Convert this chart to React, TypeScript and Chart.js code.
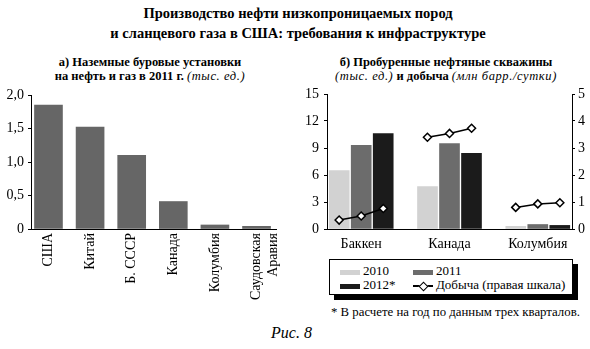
import React, { useEffect, useRef } from 'react';
import { Chart, registerables } from 'chart.js';

Chart.register(...registerables);

const FONT = '"Liberation Serif", "DejaVu Serif", serif';

// Left panel: land rigs 2011 (thousand units)
const rigCountries = ['США', 'Китай', 'Б. СССР', 'Канада', 'Колумбия', ['Саудовская', 'Аравия']];
const rigValues = [1.85, 1.52, 1.1, 0.41, 0.06, 0.04];
const rigTickLabels = ['0', '0,5', '1,0', '1,5', '2,0'];

// Right panel: wells drilled (thousand) and production (mb/d)
const fields = ['Баккен', 'Канада', 'Колумбия'];
const wells2010 = [6.5, 4.7, 0.3];
const wells2011 = [9.3, 9.5, 0.5];
const wells2012 = [10.6, 8.4, 0.4];
const prodBakken = [0.33, 0.48, 0.76];
const prodCanada = [3.4, 3.54, 3.73];
const prodColombia = [0.8, 0.93, 0.97];
const wellsTickStep = 3;
const prodTickStep = 1;

const C2010 = '#d2d2d2';
const C2011 = '#6c6c6c';
const C2012 = '#1b1b1b';
const CRIG = '#666666';

const tickFont = { family: FONT, size: 14 };

function LeftChart() {
  const ref = useRef<HTMLCanvasElement>(null);
  useEffect(() => {
    const chart = new Chart(ref.current!, {
      type: 'bar',
      data: {
        datasets: [
          {
            data: rigValues.map((v, i) => ({ x: i, y: v })),
            backgroundColor: CRIG,
            barThickness: 28,
          },
        ],
      },
      options: {
        animation: false,
        responsive: false,
        layout: { padding: { top: 15, right: 11, left: 0, bottom: 0 } },
        plugins: { legend: { display: false }, tooltip: { enabled: false }, title: { display: false } },
        scales: {
          x: {
            type: 'linear',
            offset: false,
            min: -0.42,
            max: 5.47,
            afterBuildTicks: (axis: any) => {
              axis.ticks = rigCountries.map((_, i) => ({ value: i }));
            },
            afterFit: (axis: any) => {
              axis.height = 81;
            },
            ticks: {
              autoSkip: false,
              minRotation: 90,
              maxRotation: 90,
              padding: 4,
              color: '#000',
              font: tickFont,
              callback: (_v: any, i: number) => rigCountries[i] as any,
            },
            grid: { drawOnChartArea: false, drawTicks: false },
            border: { display: true, color: '#000', width: 1 },
          },
          y: {
            min: 0,
            max: 2,
            ticks: {
              stepSize: 0.5,
              color: '#000',
              font: tickFont,
              padding: 4,
              callback: (_v: any, i: number) => rigTickLabels[i],
            },
            afterFit: (axis: any) => {
              axis.width = 31;
            },
            grid: { drawOnChartArea: false, drawTicks: true, tickLength: 3, color: '#000' },
            border: { display: true, color: '#000', width: 1 },
          },
        },
      } as any,
    });
    return () => chart.destroy();
  }, []);
  return <canvas ref={ref} width={295} height={230} style={{ display: 'block' }} />;
}

function RightChart() {
  const ref = useRef<HTMLCanvasElement>(null);
  useEffect(() => {
    const groupX = (i: number) => 2 + 4 * i;
    const barDs = (label: string, vals: number[], color: string) => ({
      type: 'bar',
      label,
      data: vals.map((v, i) => ({ x: groupX(i), y: v })),
      backgroundColor: color,
      barThickness: 22,
      maxBarThickness: 20,
      yAxisID: 'y',
      order: 2,
    });
    const lineDs = (vals: number[], gi: number) => ({
      type: 'line',
      label: 'Добыча (правая шкала)',
      data: vals.map((v, j) => ({ x: groupX(gi) - 1 + j, y: v })),
      borderColor: '#000',
      borderWidth: 1.5,
      pointStyle: 'rectRot',
      pointRadius: 4,
      pointBackgroundColor: '#fff',
      pointBorderColor: '#000',
      pointBorderWidth: 1.5,
      yAxisID: 'y1',
      order: 0,
    });
    const chart = new Chart(ref.current!, {
      type: 'bar',
      data: {
        datasets: [
          barDs('2010', wells2010, C2010),
          barDs('2011', wells2011, C2011),
          barDs('2012*', wells2012, C2012),
          lineDs(prodBakken, 0),
          lineDs(prodCanada, 1),
          lineDs(prodColombia, 2),
        ] as any,
      },
      options: {
        animation: false,
        responsive: false,
        layout: { padding: { top: 14, right: 0, left: 0, bottom: 0 } },
        plugins: { legend: { display: false }, tooltip: { enabled: false }, title: { display: false } },
        scales: {
          x: {
            type: 'linear',
            offset: false,
            min: 0.45,
            max: 11.55,
            afterBuildTicks: (axis: any) => {
              axis.ticks = fields.map((_, i) => ({ value: groupX(i) }));
            },
            afterFit: (axis: any) => {
              axis.height = 26;
            },
            ticks: {
              autoSkip: false,
              maxRotation: 0,
              minRotation: 0,
              padding: 7,
              color: '#000',
              font: tickFont,
              callback: (_v: any, i: number) => fields[i],
            },
            grid: { drawOnChartArea: false, drawTicks: false },
            border: { display: true, color: '#000', width: 1 },
          },
          y: {
            position: 'left',
            min: 0,
            max: 15,
            ticks: { stepSize: wellsTickStep, color: '#000', font: tickFont, padding: 5 },
            afterFit: (axis: any) => {
              axis.width = 27;
            },
            grid: { drawOnChartArea: false, drawTicks: true, tickLength: 3, color: '#000' },
            border: { display: true, color: '#000', width: 1 },
          },
          y1: {
            position: 'right',
            min: 0,
            max: 5,
            ticks: { stepSize: prodTickStep, color: '#000', font: tickFont, padding: 3 },
            afterFit: (axis: any) => {
              axis.width = 18;
            },
            grid: { drawOnChartArea: false, drawTicks: true, tickLength: 3, color: '#000' },
            border: { display: true, color: '#000', width: 1 },
          },
        },
      } as any,
    });
    return () => chart.destroy();
  }, []);
  return <canvas ref={ref} width={290} height={175} style={{ display: 'block' }} />;
}

const abs = (l: number, t: number, w?: number, h?: number): React.CSSProperties => ({
  position: 'absolute',
  left: l,
  top: t,
  width: w,
  height: h,
});

const ital: React.CSSProperties = { fontStyle: 'italic', fontWeight: 'normal', letterSpacing: '0.6px' };

function Swatch({ color }: { color: string }) {
  return <span style={{ display: 'inline-block', width: 20, height: 5, background: color, marginRight: 3, verticalAlign: 'middle' }} />;
}

function LineMarker() {
  return (
    <span style={{ position: 'relative', display: 'inline-block', width: 20, height: 10, marginRight: 3, verticalAlign: 'middle' }}>
      <span style={{ position: 'absolute', left: 0, top: 4, width: 20, height: 1.5, background: '#000' }} />
      <span
        style={{
          position: 'absolute',
          left: 6.5,
          top: 1.5,
          width: 5,
          height: 5,
          background: '#fff',
          border: '1.5px solid #000',
          transform: 'rotate(45deg)',
        }}
      />
    </span>
  );
}

export default function App() {
  return (
    <div style={{ position: 'absolute', left: 0, top: 0, width: 590, height: 349, background: '#fff', fontFamily: FONT, color: '#000', overflow: 'hidden' }}>
      <div style={{ ...abs(0, 3, 596), textAlign: 'center', fontWeight: 'bold', fontSize: 14.5, lineHeight: '20px' }}>
        Производство нефти низкопроницаемых пород
        <br />и сланцевого газа в США: требования к инфраструктуре
      </div>
      <div style={{ ...abs(0, 55, 300), textAlign: 'center', fontWeight: 'bold', fontSize: 12.5, lineHeight: '14px' }}>
        а) Наземные буровые установки
        <br />
        на нефть и газ в 2011 г. <span style={ital}>(тыс. ед.)</span>
      </div>
      <div style={{ ...abs(296, 55, 300), textAlign: 'center', fontWeight: 'bold', fontSize: 12.5, lineHeight: '14px' }}>
        б) Пробуренные нефтяные скважины
        <br />
        <span style={ital}>(тыс. ед.)</span> и добыча <span style={ital}>(млн барр./сутки)</span>
      </div>

      <div style={abs(0, 80, 295, 230)}>
        <LeftChart />
      </div>
      <div style={abs(300, 80, 290, 175)}>
        <RightChart />
      </div>

      <div
        style={{
          ...abs(329, 259, 244, 36),
          boxSizing: 'border-box',
          border: '1px solid #000',
          boxShadow: '5px 5px 0 #000',
          background: '#fff',
          fontSize: 13,
          lineHeight: '14px',
        }}
      >
        <div style={{ position: 'absolute', left: 10, top: 4, whiteSpace: 'nowrap' }}>
          <Swatch color={C2010} />
          2010
        </div>
        <div style={{ position: 'absolute', left: 83, top: 4, whiteSpace: 'nowrap' }}>
          <Swatch color={C2011} />
          2011
        </div>
        <div style={{ position: 'absolute', left: 10, top: 18, whiteSpace: 'nowrap' }}>
          <Swatch color={C2012} />
          2012*
        </div>
        <div style={{ position: 'absolute', left: 83, top: 18, whiteSpace: 'nowrap' }}>
          <LineMarker />
          Добыча (правая шкала)
        </div>
      </div>

      <div style={{ ...abs(331, 305), fontSize: 12.8, lineHeight: '15px', whiteSpace: 'nowrap' }}>
        * В расчете на год по данным трех кварталов.
      </div>
      <div style={{ ...abs(271, 324), fontSize: 16, fontStyle: 'italic', lineHeight: '18px', whiteSpace: 'nowrap' }}>
        Рис. 8
      </div>
    </div>
  );
}
